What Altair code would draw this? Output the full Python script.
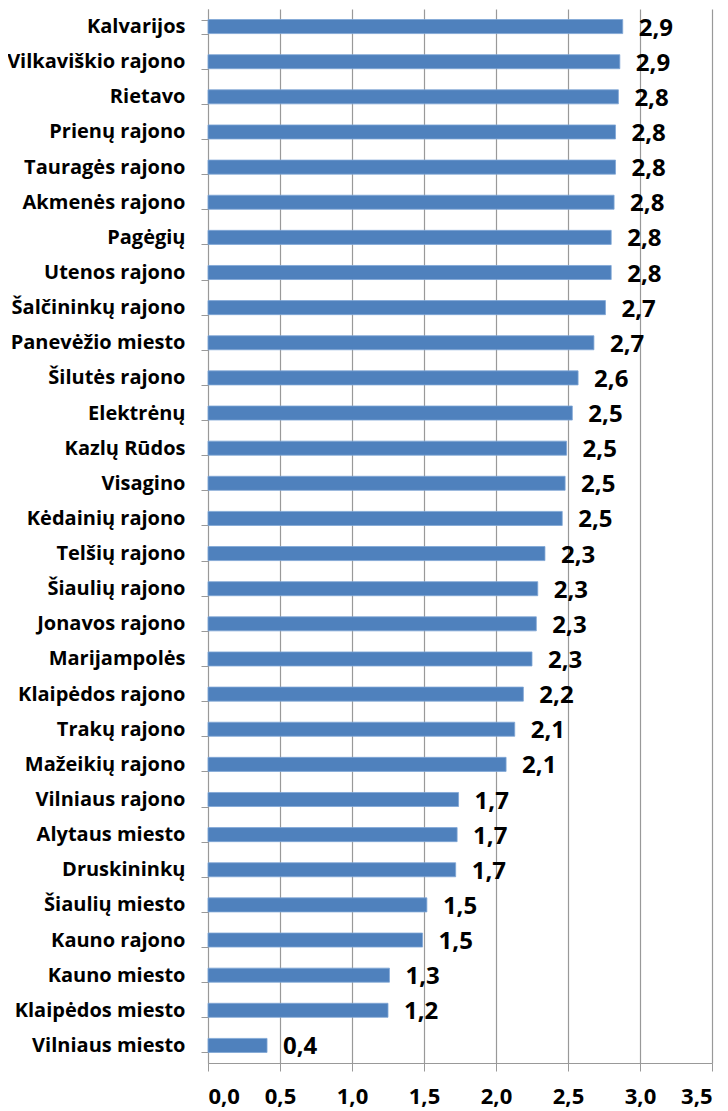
import altair as alt
import pandas as pd

categories = [
    "Kalvarijos", "Vilkaviškio rajono", "Rietavo", "Prienų rajono", "Tauragės rajono",
    "Akmenės rajono", "Pagėgių", "Utenos rajono", "Šalčininkų rajono", "Panevėžio miesto",
    "Šilutės rajono", "Elektrėnų", "Kazlų Rūdos", "Visagino", "Kėdainių rajono",
    "Telšių rajono", "Šiaulių rajono", "Jonavos rajono", "Marijampolės", "Klaipėdos rajono",
    "Trakų rajono", "Mažeikių rajono", "Vilniaus rajono", "Alytaus miesto", "Druskininkų",
    "Šiaulių miesto", "Kauno rajono", "Kauno miesto", "Klaipėdos miesto", "Vilniaus miesto",
]
values = [
    2.88, 2.86, 2.85, 2.83, 2.83,
    2.82, 2.80, 2.80, 2.76, 2.68,
    2.57, 2.53, 2.49, 2.48, 2.46,
    2.34, 2.29, 2.28, 2.25, 2.19,
    2.13, 2.07, 1.74, 1.73, 1.72,
    1.52, 1.49, 1.26, 1.25, 0.41,
]
value_labels = [
    "2,9", "2,9", "2,8", "2,8", "2,8",
    "2,8", "2,8", "2,8", "2,7", "2,7",
    "2,6", "2,5", "2,5", "2,5", "2,5",
    "2,3", "2,3", "2,3", "2,3", "2,2",
    "2,1", "2,1", "1,7", "1,7", "1,7",
    "1,5", "1,5", "1,3", "1,2", "0,4",
]
x_ticks = [0, 0.5, 1.0, 1.5, 2.0, 2.5, 3.0, 3.5]

df = pd.DataFrame({"cat": categories, "val": values, "lab": value_labels})

FONT = "Open Sans"
GRID = "#999999"

y_enc = alt.Y(
    "cat:N", sort=categories, title=None,
    scale=alt.Scale(paddingInner=0.6, paddingOuter=0.3),
    axis=alt.Axis(
        labelFont=FONT, labelFontSize=20, labelFontWeight="bold", labelColor="#000000",
        labelPadding=16, tickSize=7, tickColor=GRID, domainColor=GRID,
        tickBand="extent", grid=False, labelLimit=300,
    ),
)
x_enc = alt.X(
    "val:Q", title=None,
    scale=alt.Scale(domain=[0, 3.5], nice=False),
    axis=alt.Axis(
        values=x_ticks, labelExpr="replace(format(datum.value, '.1f'), '.', ',')",
        labelFont=FONT, labelFontSize=22, labelFontWeight="bold", labelColor="#000000",
        labelPadding=15, tickSize=8, tickColor=GRID, domainColor=GRID,
        grid=True, gridColor=GRID, gridWidth=1.2,
    ),
)

bars = alt.Chart(df).mark_bar(color="#4F81BD", stroke="#7FA6D6", strokeWidth=0.8).encode(
    y=y_enc, x=x_enc
)
text = alt.Chart(df).mark_text(
    align="left", baseline="middle", dx=16, dy=2,
    font=FONT, fontSize=24, fontWeight="bold", color="#000000"
).encode(y=alt.Y("cat:N", sort=categories), x="val:Q", text="lab:N")

chart = (bars + text).properties(
    width=504, height=1054,
    autosize=alt.AutoSizeParams(type="none"),
    padding={"left": 200, "top": 1, "right": 4, "bottom": 47},
).configure_view(stroke=None)

chart.save("out.html", embed_options={"renderer": "svg", "actions": False})
